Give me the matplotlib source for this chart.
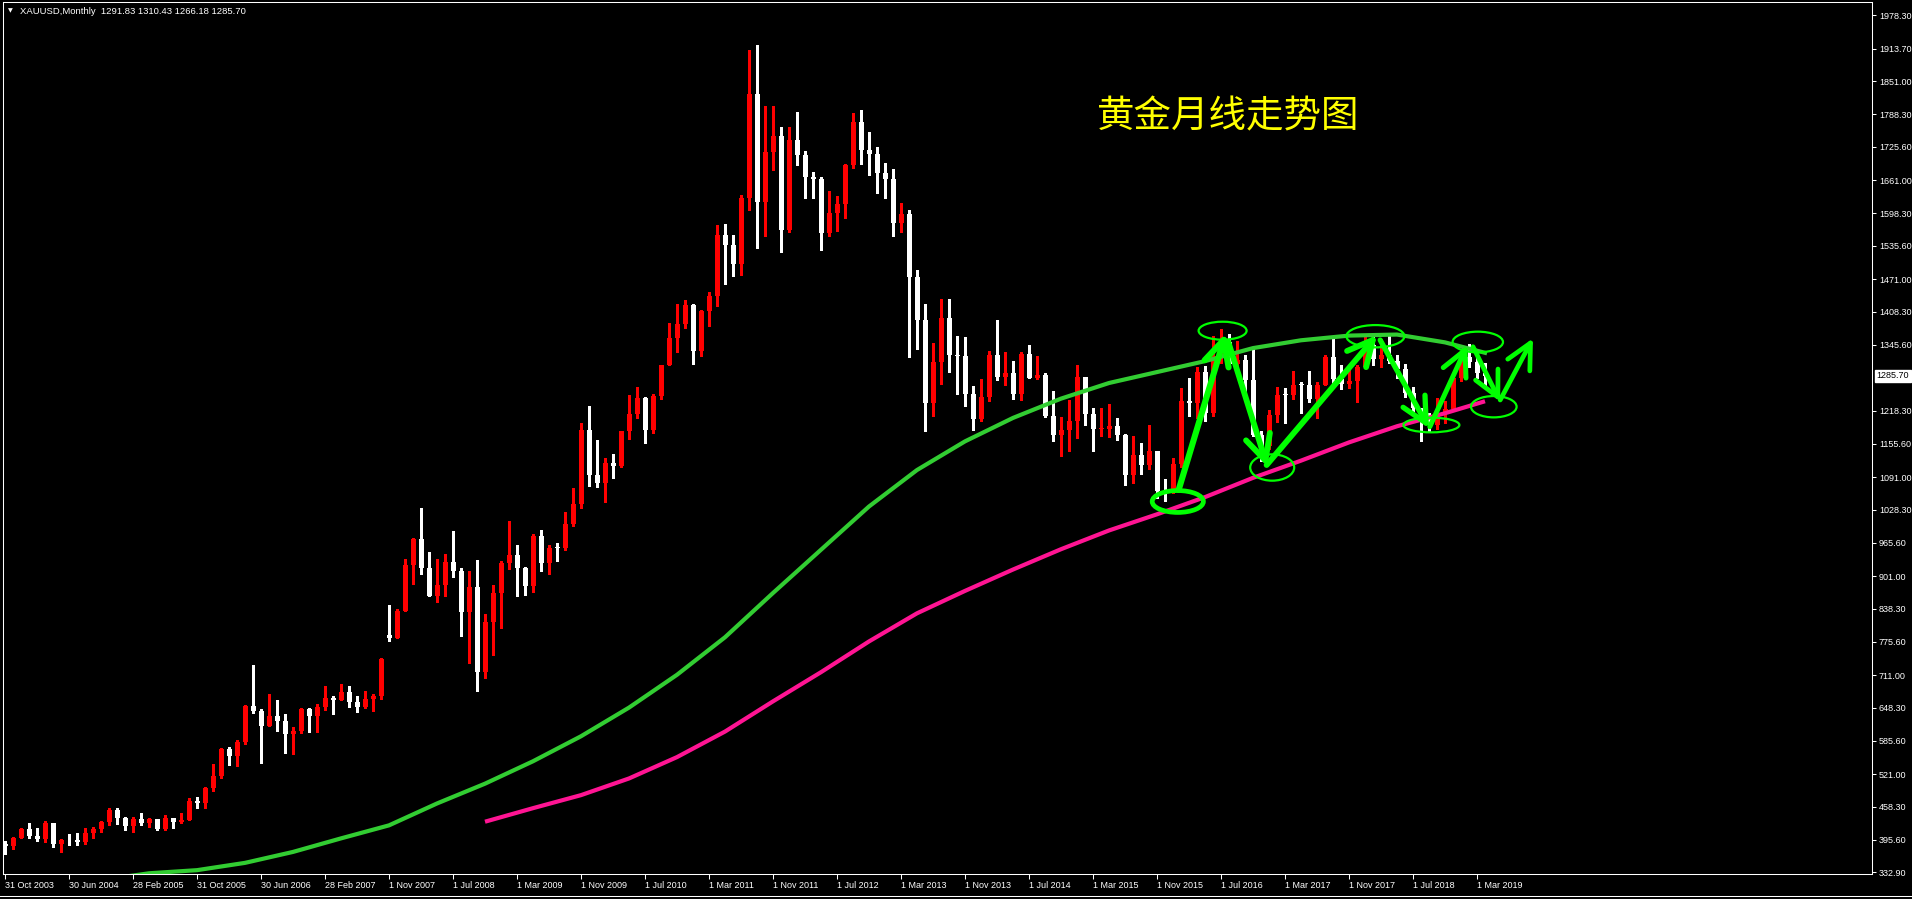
import matplotlib
matplotlib.use('Agg')
import matplotlib.pyplot as plt
import matplotlib.transforms as mtransforms
from matplotlib.lines import Line2D
from matplotlib.patches import Ellipse

plt.rcParams['font.family'] = ['Liberation Sans', 'DejaVu Sans']

# monthly XAUUSD bars, Oct 2003 .. Apr 2019 (Oct 2007 bar is missing in the feed)
opens = [388, 384, 398, 416, 403, 397, 427, 388, 395, 394, 391, 409,
         416, 429, 452, 438, 422, 436, 428, 435, 416, 437, 430, 433,
         470, 465, 494, 517, 569, 556, 583, 653, 643, 614, 633, 623,
         599, 604, 646, 632, 651, 667, 663, 679, 659, 650, 665, 672,
         789, 783, 834, 923, 972, 916, 864, 885, 928, 911, 833, 880,
         717, 814, 869, 927, 942, 917, 883, 979, 927, 955, 955, 1001,
         1040, 1181, 1096, 1081, 1118, 1113, 1180, 1213, 1244, 1181, 1247, 1307,
         1358, 1386, 1421, 1333, 1410, 1439, 1556, 1536, 1500, 1628, 1826, 1620,
         1716, 1746, 1565, 1738, 1710, 1668, 1664, 1560, 1598, 1615, 1691, 1773,
         1720, 1712, 1675, 1663, 1579, 1597, 1476, 1393, 1234, 1313, 1396, 1326,
         1323, 1250, 1202, 1245, 1326, 1284, 1292, 1250, 1327, 1282, 1287, 1209,
         1172, 1182, 1199, 1283, 1213, 1183, 1184, 1190, 1172, 1095, 1134, 1115,
         1142, 1065, 1061, 1117, 1238, 1233, 1293, 1214, 1322, 1351, 1309, 1316,
         1277, 1173, 1151, 1211, 1249, 1249, 1268, 1268, 1242, 1269, 1322, 1280,
         1270, 1275, 1303, 1345, 1318, 1325, 1315, 1298, 1253, 1224, 1201, 1192,
         1214, 1222, 1282, 1321, 1313, 1291.83]
highs = [393, 400, 417, 428, 418, 431, 428, 397, 406, 409, 418, 419,
         432, 456, 457, 439, 439, 447, 438, 436, 443, 438, 447, 475,
         478, 497, 540, 572, 574, 587, 654, 730, 647, 676, 663, 636,
         611, 648, 648, 656, 690, 672, 694, 690, 671, 680, 676, 745,
         845, 838, 934, 975, 1032, 947, 935, 944, 988, 917, 912, 932,
         829, 884, 930, 1007, 962, 919, 983, 989, 961, 965, 1024, 1070,
         1195, 1227, 1162, 1128, 1136, 1180, 1249, 1265, 1246, 1251, 1307, 1388,
         1424, 1431, 1424, 1413, 1447, 1576, 1577, 1557, 1632, 1912, 1921, 1803,
         1804, 1763, 1764, 1792, 1718, 1677, 1668, 1640, 1631, 1693, 1790, 1796,
         1754, 1725, 1694, 1682, 1617, 1605, 1488, 1424, 1348, 1433, 1434, 1362,
         1361, 1267, 1279, 1333, 1392, 1331, 1315, 1332, 1345, 1324, 1292, 1256,
         1206, 1239, 1307, 1284, 1224, 1224, 1232, 1205, 1174, 1170, 1157, 1191,
         1142, 1088, 1128, 1263, 1282, 1303, 1304, 1362, 1375, 1367, 1352, 1326,
         1337, 1180, 1220, 1264, 1262, 1296, 1274, 1296, 1274, 1326, 1357, 1306,
         1299, 1307, 1366, 1362, 1356, 1366, 1326, 1309, 1265, 1224, 1214, 1243,
         1237, 1285, 1326, 1346, 1324, 1310.43]
lows = [368, 378, 398, 399, 393, 392, 381, 372, 386, 386, 388, 398,
        411, 423, 426, 415, 411, 424, 420, 414, 414, 418, 428, 433,
        456, 457, 489, 514, 538, 537, 579, 639, 543, 613, 605, 561,
        560, 600, 603, 603, 645, 636, 663, 651, 640, 648, 643, 666,
        777, 782, 834, 886, 906, 863, 851, 864, 900, 786, 735, 681,
        705, 750, 802, 915, 864, 866, 870, 911, 905, 931, 952, 998,
        1033, 1075, 1073, 1044, 1089, 1111, 1164, 1204, 1157, 1176, 1242, 1306,
        1331, 1378, 1309, 1324, 1381, 1420, 1462, 1478, 1479, 1604, 1532, 1555,
        1681, 1523, 1562, 1690, 1627, 1627, 1527, 1555, 1564, 1589, 1684, 1692,
        1672, 1636, 1627, 1555, 1562, 1321, 1338, 1180, 1208, 1270, 1293, 1251,
        1227, 1182, 1200, 1238, 1277, 1268, 1241, 1240, 1281, 1280, 1206, 1160,
        1131, 1142, 1167, 1191, 1142, 1170, 1169, 1162, 1077, 1080, 1098, 1106,
        1052, 1046, 1061, 1110, 1208, 1205, 1199, 1208, 1310, 1303, 1304, 1241,
        1171, 1122, 1146, 1198, 1195, 1241, 1214, 1236, 1204, 1268, 1271, 1260,
        1263, 1236, 1303, 1307, 1303, 1310, 1282, 1246, 1211, 1160, 1180, 1183,
        1196, 1221, 1276, 1303, 1281, 1266.18]
closes = [384, 398, 416, 403, 397, 427, 388, 394, 394, 391, 409, 416,
          429, 452, 438, 422, 436, 428, 435, 416, 437, 430, 433, 470,
          465, 494, 517, 569, 556, 583, 653, 643, 614, 633, 623, 599,
          604, 646, 632, 651, 667, 663, 679, 659, 650, 665, 672, 743,
          783, 834, 923, 972, 916, 864, 885, 928, 911, 833, 880, 717,
          814, 869, 927, 942, 917, 883, 979, 927, 955, 955, 1001, 1040,
          1181, 1096, 1081, 1118, 1113, 1180, 1213, 1244, 1181, 1247, 1307, 1358,
          1386, 1421, 1333, 1410, 1439, 1556, 1536, 1500, 1628, 1826, 1620, 1716,
          1746, 1565, 1738, 1710, 1668, 1664, 1560, 1598, 1615, 1691, 1773, 1720,
          1712, 1675, 1663, 1579, 1597, 1476, 1393, 1234, 1313, 1396, 1326, 1323,
          1250, 1202, 1245, 1326, 1284, 1292, 1250, 1327, 1282, 1287, 1209, 1172,
          1182, 1199, 1283, 1213, 1183, 1184, 1190, 1172, 1095, 1134, 1115, 1142,
          1065, 1061, 1117, 1238, 1233, 1293, 1214, 1322, 1351, 1309, 1316, 1277,
          1173, 1151, 1211, 1249, 1249, 1268, 1268, 1242, 1269, 1322, 1280, 1270,
          1275, 1303, 1345, 1318, 1325, 1315, 1298, 1253, 1224, 1201, 1192, 1214,
          1222, 1282, 1321, 1313, 1292, 1285.70]

# moving averages (bar index, price)
green_idx = [12, 18, 24, 30, 36, 42, 48, 54, 60, 66, 72, 78, 84, 90, 96, 102,
             108, 114, 120, 126, 132, 138, 144, 150, 156, 162, 168, 174, 180, 185]
green_val = [318, 331, 337, 351, 372, 398, 423, 465, 503, 546, 594, 649, 712, 784,
             869, 952, 1035, 1105, 1160, 1205, 1242, 1272, 1293, 1314, 1339, 1354,
             1363, 1365, 1350, 1330]
pink_idx = [60, 66, 72, 78, 84, 90, 96, 102, 108, 114, 120, 126, 132, 138, 144,
            150, 156, 162, 168, 174, 180, 185]
pink_val = [430, 456, 481, 513, 554, 603, 661, 717, 776, 830, 873, 914, 953, 989,
            1020, 1053, 1090, 1123, 1158, 1189, 1214, 1237]

# hand drawn zigzag arrows (tail -> tip) and circles
arrow_tail = [(146.7, 1066.6), (152.9, 1351.3), (157.7, 1114.6), (171.9, 1354.5),
              (178.1, 1188.1), (183.5, 1341.7), (186.9, 1239.4)]
arrow_tip = [(152.6, 1367.4), (157.8, 1111.4), (171.5, 1364.1), (178.0, 1185.1),
             (182.8, 1344.9), (186.9, 1236.1), (191.0, 1357.8)]
arrow_lw = [4.4, 4.2, 4.2, 3.8, 3.6, 3.4, 3.4]
circ_x = [146.6, 152.2, 158.4, 171.3, 178.3, 184.1, 186.1]
circ_y = [1044.6, 1372.4, 1109.8, 1361.8, 1191.4, 1350.7, 1226.5]
circ_w = [6.4, 6.0, 5.5, 7.25, 7.0, 6.3, 5.7]
circ_h = [42, 34.5, 50.5, 42.8, 28.2, 39.7, 40.9]
circ_lw = [3.4, 1.6, 1.6, 1.6, 1.6, 1.6, 1.6]

ytick_vals = [1978.30, 1913.70, 1851.00, 1788.30, 1725.60, 1661.00, 1598.30,
              1535.60, 1471.00, 1408.30, 1345.60, 1218.30, 1155.60, 1091.00,
              1028.30, 965.60, 901.00, 838.30, 775.60, 711.00, 648.30, 585.60,
              521.00, 458.30, 395.60, 332.90]
xtick_pos = list(range(0, 185, 8))
xtick_labels = ['31 Oct 2003', '30 Jun 2004', '28 Feb 2005', '31 Oct 2005',
                '30 Jun 2006', '28 Feb 2007', '1 Nov 2007', '1 Jul 2008',
                '1 Mar 2009', '1 Nov 2009', '1 Jul 2010', '1 Mar 2011',
                '1 Nov 2011', '1 Jul 2012', '1 Mar 2013', '1 Nov 2013',
                '1 Jul 2014', '1 Mar 2015', '1 Nov 2015', '1 Jul 2016',
                '1 Mar 2017', '1 Nov 2017', '1 Jul 2018', '1 Mar 2019']

W, H = 1912, 900
fig = plt.figure(figsize=(W / 100, H / 100), dpi=100, facecolor='black')
ax = fig.add_axes([3.3 / W, 1 - 874.3 / H, (1872 - 3.3) / W, (874.3 - 2.3) / H])
ax.set_facecolor('black')

# candles: red = up month, white = down month
xs = list(range(len(closes)))
cols = ['#ff0000' if c > o else '#ffffff' for o, c in zip(opens, closes)]
bottoms = [min(o, c) for o, c in zip(opens, closes)]
heights = [max(abs(c - o), 1.8) for o, c in zip(opens, closes)]
ax.vlines(xs, lows, highs, colors=cols, linewidth=0.75, antialiased=False, zorder=2)
ax.bar(xs, heights, bottom=bottoms, width=0.625, color=cols, linewidth=0,
       antialiased=False, zorder=3)

ax.plot(green_idx, green_val, color='#32cd32', lw=3.0, zorder=4,
        solid_joinstyle='round')
ax.plot(pink_idx, pink_val, color='#ff1493', lw=3.0, zorder=4,
        solid_joinstyle='round', solid_capstyle='butt')

for (x0, y0), (x1, y1), lw in zip(arrow_tail, arrow_tip, arrow_lw):
    ax.annotate('', xy=(x1, y1), xytext=(x0, y0), zorder=6,
                arrowprops=dict(arrowstyle='->,head_length=0.9,head_width=0.45',
                                mutation_scale=20, lw=lw, color='#00ff00',
                                shrinkA=0, shrinkB=0, capstyle='round',
                                joinstyle='round'))
for cx, cy, cw, ch, lw in zip(circ_x, circ_y, circ_w, circ_h, circ_lw):
    ax.add_patch(Ellipse((cx, cy), cw, ch, fill=False, ec='#00ff00', lw=lw, zorder=6))

ax.set_xlim(-0.2125, 233.375)
ax.set_ylim(329.06, 2002.7)

for s in ax.spines.values():
    s.set_color('white')
    s.set_linewidth(0.75)

ax.yaxis.tick_right()
ax.set_yticks(ytick_vals)
ax.set_yticklabels([f'{v:.2f}' for v in ytick_vals])
ax.tick_params(axis='y', colors='white', length=3, width=0.75, pad=2, labelsize=6.5)
ax.set_xticks(xtick_pos)
ax.set_xticklabels(xtick_labels)
ax.tick_params(axis='x', colors='white', length=3.5, width=0.75, pad=1, labelsize=6.5)
for lbl in ax.get_xticklabels():
    lbl.set_ha('left')

# last price tag
tr = mtransforms.blended_transform_factory(ax.transAxes, ax.transData)
ax.text(1.0025, closes[-1], f'{closes[-1]:.2f}', transform=tr, fontsize=6.5,
        color='black', va='center', ha='left', clip_on=False,
        bbox=dict(boxstyle='square,pad=0.15', fc='white', ec='white'))

fig.text(8 / W, 1 - 11 / H, '\u25bc', color='white', fontsize=4.5,
         family='DejaVu Sans', va='center', ha='left')
fig.text(20 / W, 1 - 11 / H, 'XAUUSD,Monthly  1291.83 1310.43 1266.18 1285.70',
         color='white', fontsize=6.8, va='center', ha='left')
fig.text(1097 / W, 1 - 117 / H, '黄金月线走势图', color='#ffff00', fontsize=27,
         family=['Noto Sans CJK SC', 'DejaVu Sans'], va='center', ha='left')

# tab bar lines under the chart
for yy in (896, 898.5):
    fig.add_artist(Line2D([0, 1], [1 - yy / H] * 2, color='white', lw=0.75,
                          transform=fig.transFigure))

fig.savefig('out.png', dpi=100, facecolor='black')
